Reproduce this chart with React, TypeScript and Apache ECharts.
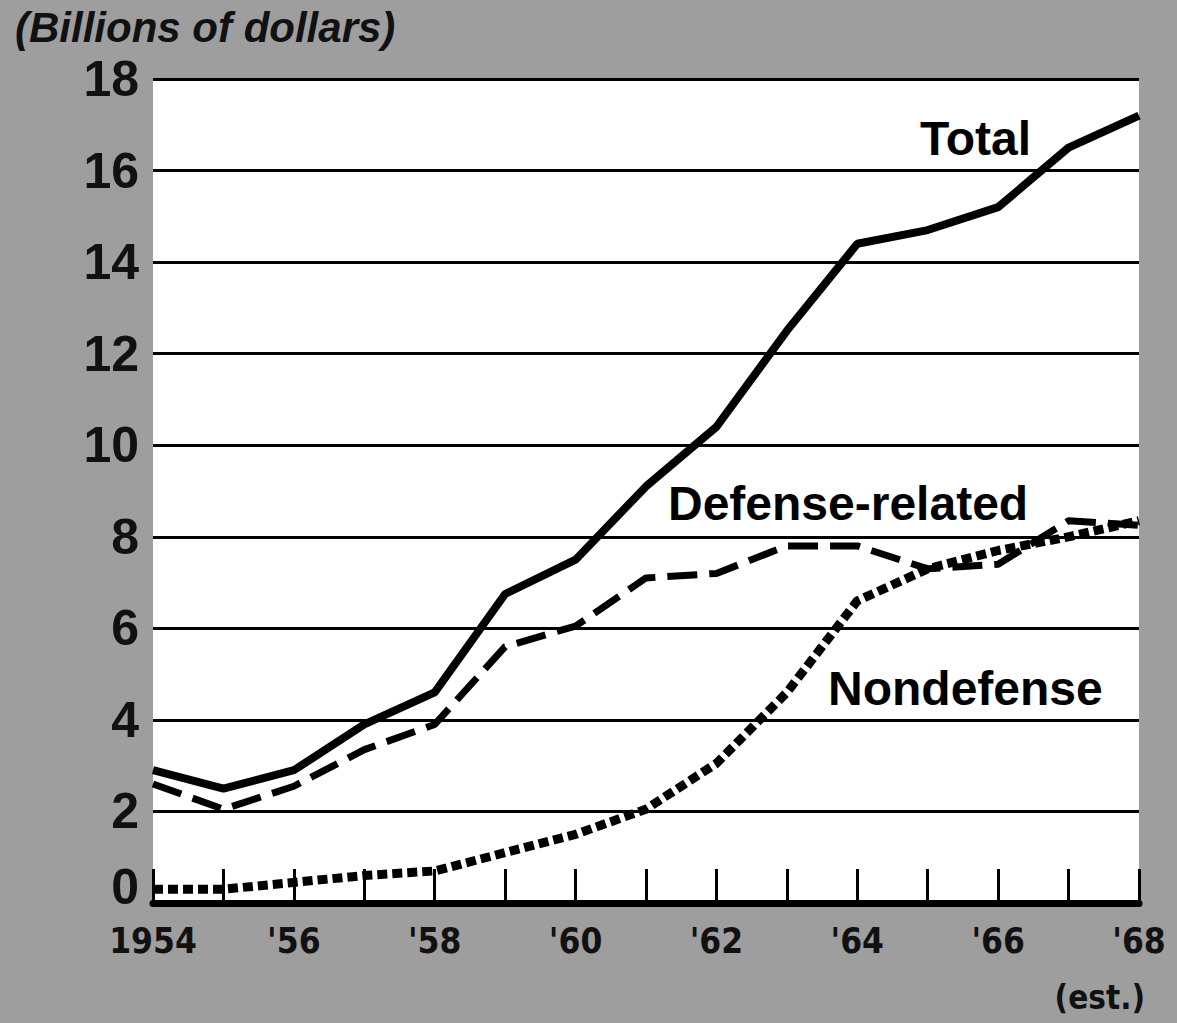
import React, { useEffect, useRef } from "react";
import * as echarts from "echarts";

const years = [1954, 1955, 1956, 1957, 1958, 1959, 1960, 1961, 1962, 1963, 1964, 1965, 1966, 1967, 1968];
const total = [2.9, 2.5, 2.9, 3.9, 4.6, 6.75, 7.5, 9.1, 10.4, 12.5, 14.4, 14.7, 15.2, 16.5, 17.2];
const defense = [2.6, 2.05, 2.55, 3.35, 3.9, 5.6, 6.05, 7.1, 7.2, 7.8, 7.8, 7.3, 7.4, 8.35, 8.25];
const nondefense = [0.3, 0.3, 0.45, 0.6, 0.7, 1.1, 1.5, 2.05, 3.05, 4.6, 6.6, 7.3, 7.7, 8.0, 8.35];
const yTicks = [0, 2, 4, 6, 8, 10, 12, 14, 16, 18];
const xLabels: Record<number, string> = {
  1954: "1954",
  1956: "'56",
  1958: "'58",
  1960: "'60",
  1962: "'62",
  1964: "'64",
  1966: "'66",
  1968: "'68",
};
const estNote = "(est.)";

const condensed = "'Liberation Sans Narrow', 'DejaVu Sans Condensed', sans-serif";
const sans = "'Liberation Sans', Arial, sans-serif";

export default function App() {
  const ref = useRef<HTMLDivElement>(null);
  useEffect(() => {
    document.body.style.margin = "0";
    const chart = echarts.init(ref.current!, null, { renderer: "svg" });
    const pair = (arr: number[]) => years.map((y, i) => [y, arr[i]]);
    chart.setOption({
      animation: false,
      backgroundColor: "#9e9e9e",
      title: {
        text: "(Billions of dollars)",
        left: 10,
        top: 1,
        textStyle: {
          fontFamily: sans,
          fontSize: 42,
          fontStyle: "italic",
          fontWeight: "bold",
          color: "#111",
        },
      },
      grid: {
        left: 153,
        right: 38,
        top: 79,
        bottom: 120,
        show: true,
        backgroundColor: "#ffffff",
        borderWidth: 0,
        outerBoundsMode: "none",
        containLabel: false,
      },
      xAxis: {
        type: "value",
        min: 1954,
        max: 1968,
        interval: 1,
        axisLine: { show: true, onZero: false, lineStyle: { color: "#000", width: 7 } },
        axisTick: { show: true, inside: true, length: 34, lineStyle: { color: "#000", width: 3 } },
        splitLine: { show: false },
        axisLabel: {
          margin: 20,
          align: "center",
          fontFamily: condensed,
          fontWeight: "bold",
          fontSize: 35,
          lineHeight: 35,
          color: "#111",
          formatter: (v: number) => xLabels[v] || "",
        },
      },
      yAxis: {
        type: "value",
        min: 0,
        max: 18,
        interval: 2,
        axisLine: { show: false },
        axisTick: { show: false },
        splitLine: { show: true, lineStyle: { color: "#000", width: 3 } },
        axisLabel: {
          margin: 14,
          formatter: (v: number) => {
            if (!yTicks.includes(v)) return "";
            return v === 0 ? "{z|0}" : "{n|" + v + "}";
          },
          rich: {
            n: { fontFamily: sans, fontWeight: "bold", fontSize: 50, color: "#111" },
            z: {
              fontFamily: sans,
              fontWeight: "bold",
              fontSize: 50,
              color: "#111",
              padding: [0, 0, 32, 0],
            },
          },
        },
      },
      series: [
        {
          name: "Nondefense",
          type: "line",
          data: pair(nondefense),
          showSymbol: false,
          symbol: "none",
          lineStyle: { color: "#000", width: 9, type: [10, 5], cap: "butt" },
          z: 3,
        },
        {
          name: "Defense-related",
          type: "line",
          data: pair(defense),
          showSymbol: false,
          symbol: "none",
          lineStyle: { color: "#000", width: 7, type: [30, 12], cap: "butt" },
          z: 4,
        },
        {
          name: "Total",
          type: "line",
          data: pair(total),
          showSymbol: false,
          symbol: "none",
          lineStyle: { color: "#000", width: 8 },
          z: 5,
        },
      ],
    });
    const lastYear = years[years.length - 1];
    const [ex, ey] = chart.convertToPixel({ xAxisIndex: 0, yAxisIndex: 0 }, [lastYear, 0]) as number[];
    chart.setOption({
      graphic: [
        {
          type: "text",
          left: 920,
          top: 114,
          style: { text: "Total", font: "bold 48px " + sans, fill: "#000" },
        },
        {
          type: "text",
          left: 668,
          top: 479,
          style: { text: "Defense-related", font: "bold 48px " + sans, fill: "#000" },
        },
        {
          type: "text",
          left: 828,
          top: 664,
          style: { text: "Nondefense", font: "bold 48px " + sans, fill: "#000" },
        },
        {
          type: "text",
          x: ex + 6,
          y: ey + 94,
          style: {
            text: estNote,
            font: "bold 33px " + condensed,
            fill: "#111",
            align: "right",
            verticalAlign: "middle",
          },
        },
      ],
    });
    return () => chart.dispose();
  }, []);
  return <div ref={ref} style={{ width: 1177, height: 1023 }} />;
}
